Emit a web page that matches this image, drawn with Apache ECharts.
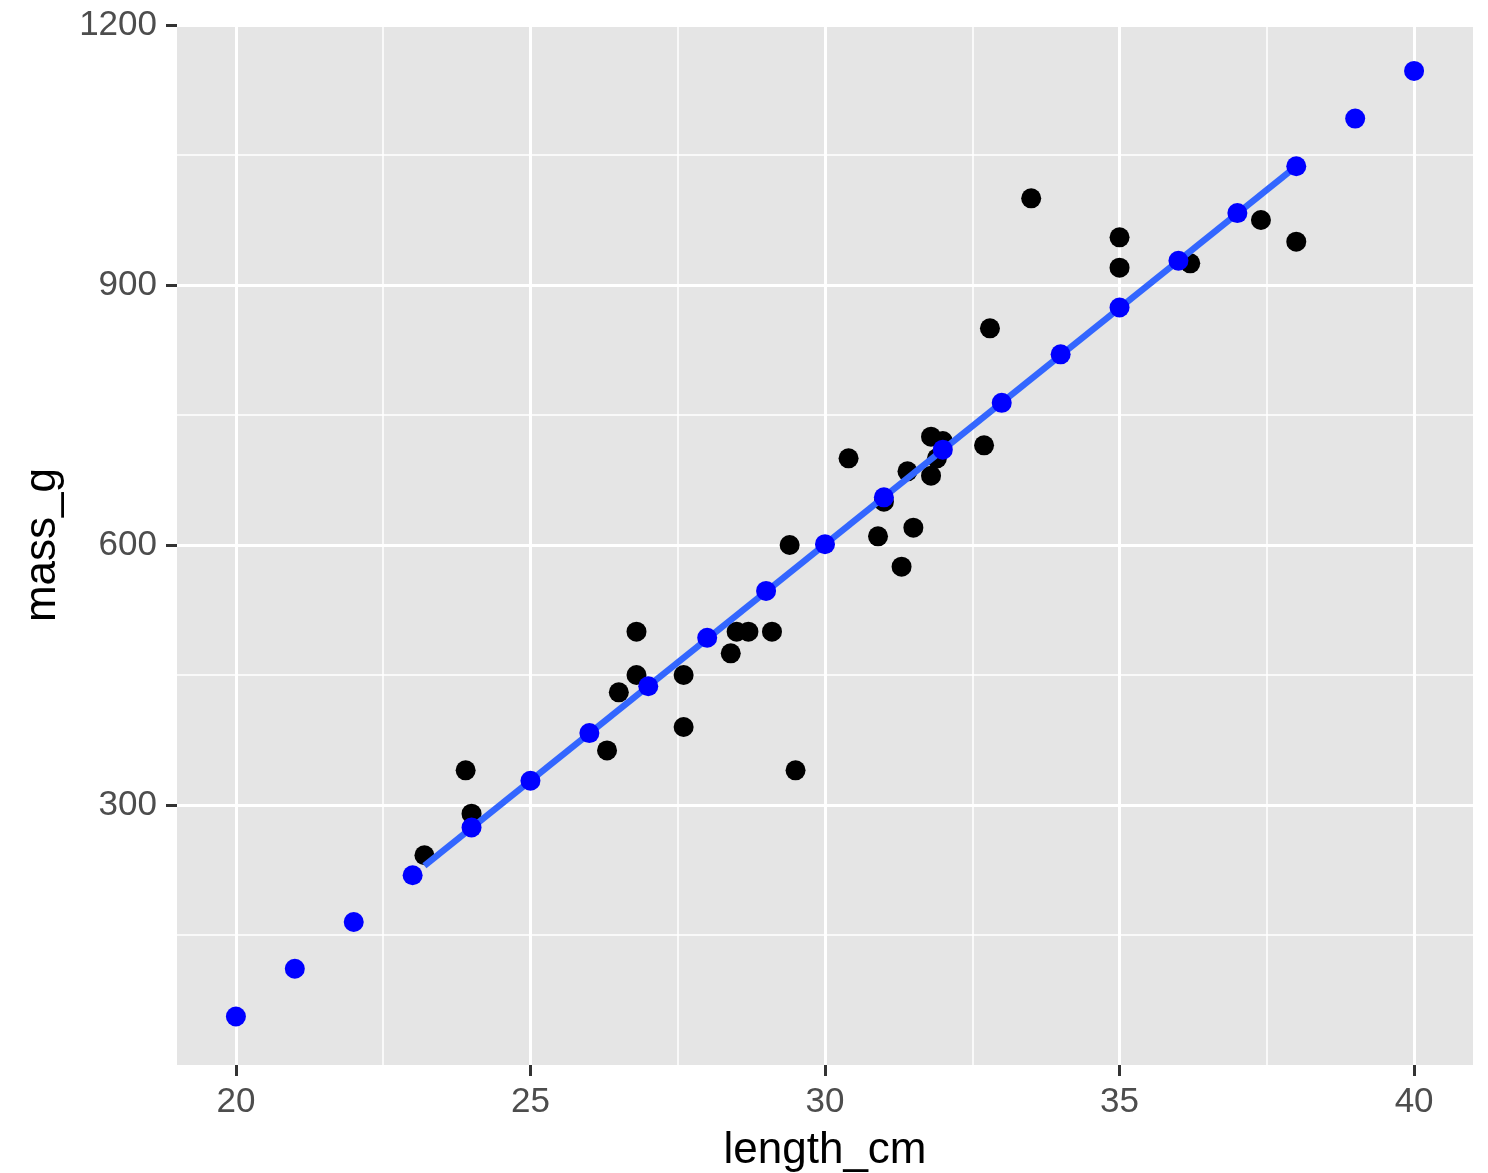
<!DOCTYPE html>
<html>
<head>
<meta charset="utf-8">
<script src="https://cdn.jsdelivr.net/npm/echarts@6/dist/echarts.min.js"></script>
<style>
  html, body { margin: 0; padding: 0; background: #ffffff; }
  #chart { width: 1488px; height: 1173px; }
</style>
</head>
<body>
<div id="chart"></div>
<script>
// Observed fish: length (cm) and mass (g)
const obsLength = [23.2, 23.9, 24.0, 26.3, 26.5, 26.8, 26.8, 27.6, 27.6, 28.4, 28.5, 28.7, 29.1, 29.5, 29.4,
                   30.4, 30.9, 31.0, 31.3, 31.4, 31.5, 31.8, 31.8, 31.9, 32.0, 32.7, 32.8, 33.5,
                   35.0, 35.0, 36.2, 37.4, 38.0];
const obsMass   = [242, 340, 290, 363, 430, 450, 500, 450, 390, 475, 500, 500, 500, 340, 600,
                   700, 610, 650, 575, 685, 620, 725, 680, 700, 720, 715, 850, 1000,
                   955, 920, 925, 975, 950];

// Predicted values (blue points)
const predLength = [20, 21, 22, 23, 24, 25, 26, 27, 28, 29, 30, 31, 32, 33, 34, 35, 36, 37, 38, 39, 40];
const predMass   = [56, 111, 165, 219, 274, 328, 383, 437, 493, 547, 601, 655, 710, 764, 820, 874, 928, 983, 1037, 1092, 1147];

// Fitted regression line ends
const fitLength = [23.2, 38.0];
const fitMass   = [230, 1037];

// Axis ticks
const xTicks = [20, 25, 30, 35, 40];
const xMinorTicks = [22.5, 27.5, 32.5, 37.5];
const yTicks = [300, 600, 900, 1200];

const zip = (a, b) => a.map((v, i) => [v, b[i]]);

const font = '"Liberation Sans", Arial, Helvetica, sans-serif';
const chart = echarts.init(document.getElementById('chart'), null, { renderer: 'canvas' });

chart.setOption({
  animation: false,
  backgroundColor: '#ffffff',
  grid: {
    left: 177, right: 15, top: 25, bottom: 108,
    show: true, backgroundColor: '#E5E5E5', borderWidth: 0,
    containLabel: false, outerBoundsMode: 'none'
  },
  xAxis: [
    {
      type: 'value', min: 19, max: 41,
      name: 'length_cm', nameLocation: 'middle', nameGap: 64, nameMoveOverlap: false,
      nameTextStyle: { fontFamily: font, fontSize: 44, color: '#000000' },
      axisLine: { show: false },
      axisTick: { show: true, length: 11, lineStyle: { color: '#333333', width: 3 }, customValues: xTicks },
      axisLabel: { fontFamily: font, fontSize: 35, color: '#4D4D4D', margin: 20, customValues: xTicks,
                   formatter: v => String(v) },
      splitLine: { show: true, lineStyle: { color: '#ffffff', width: 3 } },
      minorSplitLine: { show: false }
    },
    {
      type: 'value', min: 19, max: 41, position: 'top',
      axisLine: { show: false },
      axisTick: { show: false, customValues: xMinorTicks },
      axisLabel: { show: false, customValues: xMinorTicks },
      splitLine: { show: true, lineStyle: { color: '#ffffff', width: 1.5 } }
    }
  ],
  yAxis: {
    type: 'value', min: 0, max: 1200, interval: 300,
    name: 'mass_g', nameLocation: 'middle', nameGap: 112, nameMoveOverlap: false,
    nameTextStyle: { fontFamily: font, fontSize: 44, color: '#000000' },
    axisLine: { show: false },
    axisTick: { show: true, length: 11, lineStyle: { color: '#333333', width: 3 }, customValues: yTicks },
    axisLabel: { fontFamily: font, fontSize: 35, color: '#4D4D4D', margin: 20, customValues: yTicks,
                 formatter: v => String(v) },
    splitLine: { show: true, lineStyle: { color: '#ffffff', width: 3 } },
    minorTick: { show: false, splitNumber: 2 },
    minorSplitLine: { show: true, lineStyle: { color: '#ffffff', width: 1.5 } }
  },
  series: [
    {
      type: 'scatter', name: 'observed', z: 2,
      data: zip(obsLength, obsMass),
      symbol: 'circle', symbolSize: 20,
      itemStyle: { color: '#000000', opacity: 1 }
    },
    {
      type: 'line', name: 'fit', z: 3,
      data: zip(fitLength, fitMass),
      showSymbol: false, symbol: 'none',
      lineStyle: { color: '#3366FF', width: 6.5, cap: 'butt', opacity: 1 }
    },
    {
      type: 'scatter', name: 'predicted', z: 4,
      data: zip(predLength, predMass),
      symbol: 'circle', symbolSize: 20,
      itemStyle: { color: '#0000FF', opacity: 1 }
    }
  ]
});
</script>
</body>
</html>
